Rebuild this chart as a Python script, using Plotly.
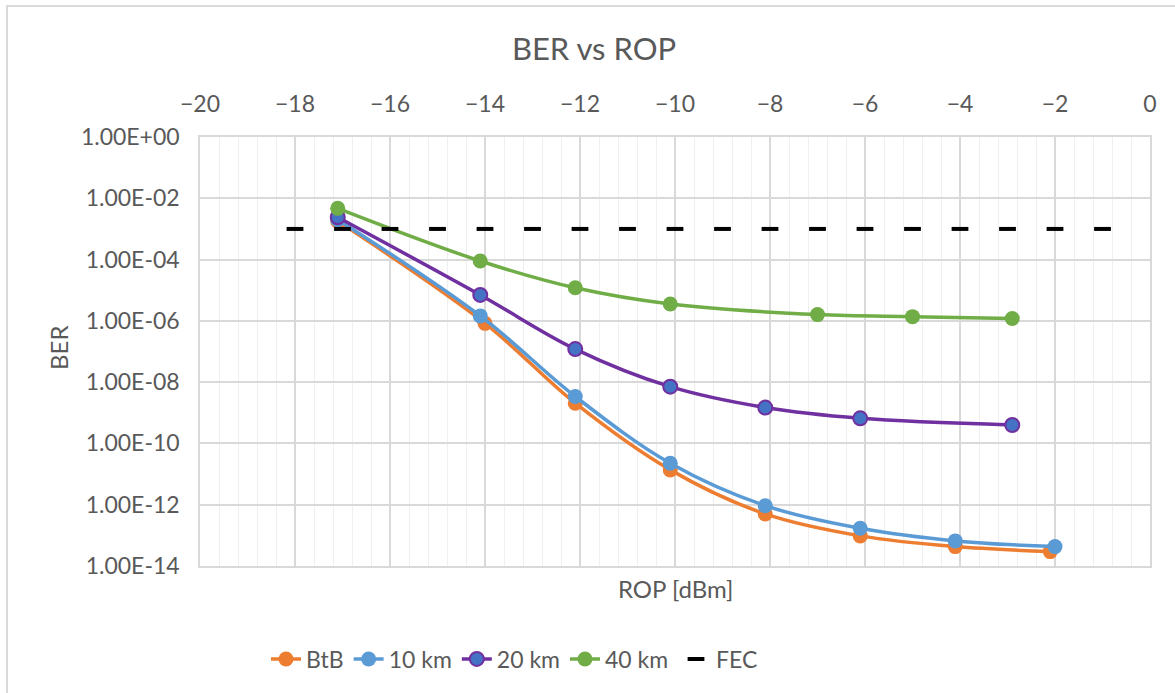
import plotly.graph_objects as go

# Received optical power (dBm) and measured bit error rate per link length
rop_btb = [-17.1, -14.0, -12.1, -10.1, -8.1, -6.1, -4.1, -2.1]
ber_btb = [1.8e-3, 8.3e-7, 2.05e-9, 1.37e-11, 5.0e-13, 9.6e-14, 4.3e-14, 2.95e-14]

rop_10km = [-17.1, -14.1, -12.1, -10.1, -8.1, -6.1, -4.1, -2.0]
ber_10km = [2.0e-3, 1.45e-6, 3.4e-9, 2.25e-11, 9.3e-13, 1.7e-13, 6.6e-14, 4.3e-14]

rop_20km = [-17.1, -14.1, -12.1, -10.1, -8.1, -6.1, -2.9]
ber_20km = [2.4e-3, 7.0e-6, 1.2e-7, 7.1e-9, 1.48e-9, 6.6e-10, 4.0e-10]

rop_40km = [-17.1, -14.1, -12.1, -10.1, -7.0, -5.0, -2.9]
ber_40km = [4.7e-3, 9.0e-5, 1.2e-5, 3.55e-6, 1.6e-6, 1.37e-6, 1.2e-6]

# FEC threshold
rop_fec = [-18, -17, -16, -15, -14, -13, -12, -11, -10, -9, -8, -7, -6, -5, -4, -3, -2, -1]
ber_fec = [1e-3] * len(rop_fec)

x_ticks = [-20, -18, -16, -14, -12, -10, -8, -6, -4, -2, 0]
y_tickvals = [1e0, 1e-2, 1e-4, 1e-6, 1e-8, 1e-10, 1e-12, 1e-14]
y_ticktext = ["1.00E+00", "1.00E-02", "1.00E-04", "1.00E-06",
              "1.00E-08", "1.00E-10", "1.00E-12", "1.00E-14"]

FONT = "Lato"
TEXT = "#595959"
GRID = "#D9D9D9"
TICK_SIZE = 23

fig = go.Figure()

fig.add_trace(go.Scatter(
    x=rop_btb, y=ber_btb, name="BtB", mode="lines+markers",
    line=dict(color="#ED7D31", width=3.5, shape="spline"),
    marker=dict(color="#ED7D31", size=15),
))
fig.add_trace(go.Scatter(
    x=rop_10km, y=ber_10km, name="10 km", mode="lines+markers",
    line=dict(color="#5B9BD5", width=3.5, shape="spline"),
    marker=dict(color="#5B9BD5", size=15),
))
fig.add_trace(go.Scatter(
    x=rop_20km, y=ber_20km, name="20 km", mode="lines+markers",
    line=dict(color="#7030A0", width=3.5, shape="spline"),
    marker=dict(color="#4472C4", size=14, line=dict(color="#7030A0", width=2)),
))
fig.add_trace(go.Scatter(
    x=rop_40km, y=ber_40km, name="40 km", mode="lines+markers",
    line=dict(color="#70AD47", width=3.5, shape="spline"),
    marker=dict(color="#70AD47", size=15),
))
fig.add_trace(go.Scatter(
    x=rop_fec, y=ber_fec, name="FEC", mode="markers", legend="legend2",
    marker=dict(symbol="line-ew", size=12, color="black",
                line=dict(color="black", width=4)),
))

ML, MT, PW, PH = 200, 137, 950, 429

def px_x(px):
    return (px - ML) / PW

def px_y(py):
    return (MT + PH - py) / PH

legend_style = dict(orientation="h", xanchor="left", yanchor="middle",
                    font=dict(family=FONT, size=TICK_SIZE, color=TEXT),
                    bgcolor="rgba(0,0,0,0)")

fig.update_layout(
    width=1175, height=693,
    margin=dict(l=ML, r=1175 - ML - PW, t=MT, b=693 - MT - PH),
    paper_bgcolor="white", plot_bgcolor="white",
    font=dict(family=FONT, color=TEXT, size=TICK_SIZE),
    title=dict(text="BER vs ROP", x=594 / 1175, y=1 - 49 / 693,
               xanchor="center", yanchor="middle",
               font=dict(family=FONT, size=31, color=TEXT)),
    showlegend=True,
    legend=dict(x=px_x(266), y=px_y(659), **legend_style),
    legend2=dict(x=px_x(676), y=px_y(659), **legend_style),
    xaxis=dict(
        range=[-20, 0], side="top", tickvals=x_ticks,
        showgrid=True, gridcolor=GRID, gridwidth=1.5,
        minor=dict(dtick=0.4, showgrid=True, gridcolor="#EFEFEF", gridwidth=1.3),
        showline=True, mirror=True, linecolor=GRID, linewidth=1.5,
        zeroline=False, ticks="", ticklabelstandoff=14,
        tickfont=dict(family=FONT, size=TICK_SIZE, color=TEXT),
    ),
    yaxis=dict(
        type="log", range=[-14, 0], tickvals=y_tickvals, ticktext=y_ticktext,
        showgrid=True, gridcolor=GRID, gridwidth=1.5,
        showline=True, mirror=True, linecolor=GRID, linewidth=1.5,
        zeroline=False, ticks="", ticklabelstandoff=14,
        tickfont=dict(family=FONT, size=TICK_SIZE, color=TEXT),
    ),
    annotations=[
        dict(text="ROP [dBm]", xref="paper", yref="paper",
             x=px_x(675), y=px_y(588), xanchor="center", yanchor="middle",
             showarrow=False, font=dict(family=FONT, size=24, color=TEXT)),
        dict(text="BER", xref="paper", yref="paper", textangle=-90,
             x=px_x(58), y=px_y(348), xanchor="center", yanchor="middle",
             showarrow=False, font=dict(family=FONT, size=24, color=TEXT)),
    ],
    shapes=[dict(
        type="rect", xref="paper", yref="paper",
        x0=px_x(7), x1=px_x(1185), y0=px_y(705), y1=px_y(6),
        line=dict(color="#D9D9D9", width=2), fillcolor="rgba(0,0,0,0)",
        layer="below",
    )],
)

fig.write_html("out.html")
